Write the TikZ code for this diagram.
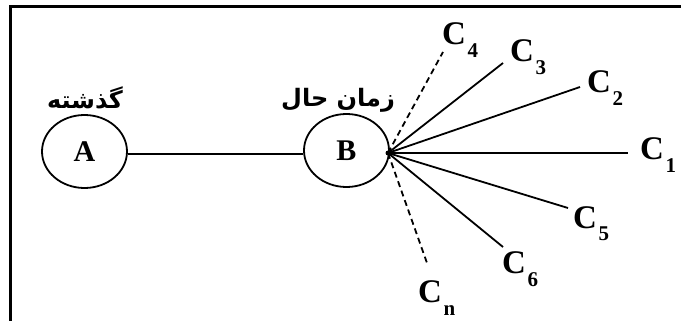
\documentclass[tikz,border=0pt]{standalone}
\usepackage{fontspec}
\setmainfont{Liberation Serif}
\newfontfamily\arabicfont[Script=Arabic]{DejaVu Sans}
\TeXXeTstate=1
\usetikzlibrary{shapes.geometric}
\newcommand{\cfont}{\fontsize{33}{33}\selectfont\bfseries}
\newcommand{\sfnt}{\fontsize{21}{21}\selectfont\bfseries}
\newcommand{\clab}[1]{C\hspace{1.5pt}\raisebox{-13pt}{\sfnt #1}}
\begin{document}
\begin{tikzpicture}[x=1pt,y=-1pt,
  circ/.style={ellipse,draw,line width=1.8pt,minimum width=85pt,minimum height=73pt,inner sep=0pt,font=\fontsize{30}{30}\selectfont\bfseries},
  ray/.style={line width=1.8pt},
  dray/.style={line width=1.8pt,dash pattern=on 6pt off 4pt},
  clabel/.style={anchor=base west,inner sep=0pt,font=\cfont},
  fa/.style={inner sep=0pt,font=\arabicfont\fontsize{24}{24}\selectfont\bfseries}]
\useasboundingbox (0,0) rectangle (681,321);
\fill[white] (0,0) rectangle (681,321);
\draw[line width=3pt] (10,321) -- (10,7) -- (681,7);

\node[circ] (A) at (84.5,151.5) {A};
\node[circ] (B) at (346.5,150.5) {B};
\node[fa] (ta) at (85,98) {\beginR گذشته\endR};
\node[fa] (tb) at (338,100) {\beginR زمان حال\endR};
\draw[line width=1.8pt] (A.east |- 0,154) -- (B.west |- 0,154);

\coordinate (hub) at (388,153);
\fill (hub) circle (2.5pt);

\coordinate (e1) at (628,153);
\coordinate (e2) at (580,87);
\coordinate (e3) at (503,63);
\coordinate (e4) at (443,52);
\coordinate (e5) at (568,208);
\coordinate (e6) at (503,247);
\coordinate (en) at (427,263);

\draw[ray] (hub) -- (e1);
\draw[ray] (hub) -- (e2);
\draw[ray] (hub) -- (e3);
\draw[dray] (hub) -- (e4);
\draw[ray] (hub) -- (e5);
\draw[ray] (hub) -- (e6);
\draw[dray] (hub) -- (en);

\node[clabel] (c1) at (640,160) {\clab{1}};
\node[clabel] (c2) at (587,93) {\clab{2}};
\node[clabel] (c3) at (510,62) {\clab{3}};
\node[clabel] (c4) at (442,45) {\clab{4}};
\node[clabel] (c5) at (573,228) {\clab{5}};
\node[clabel] (c6) at (502,273) {\clab{6}};
\node[clabel] (cn) at (418,302) {\clab{n}};
\end{tikzpicture}
\end{document}
